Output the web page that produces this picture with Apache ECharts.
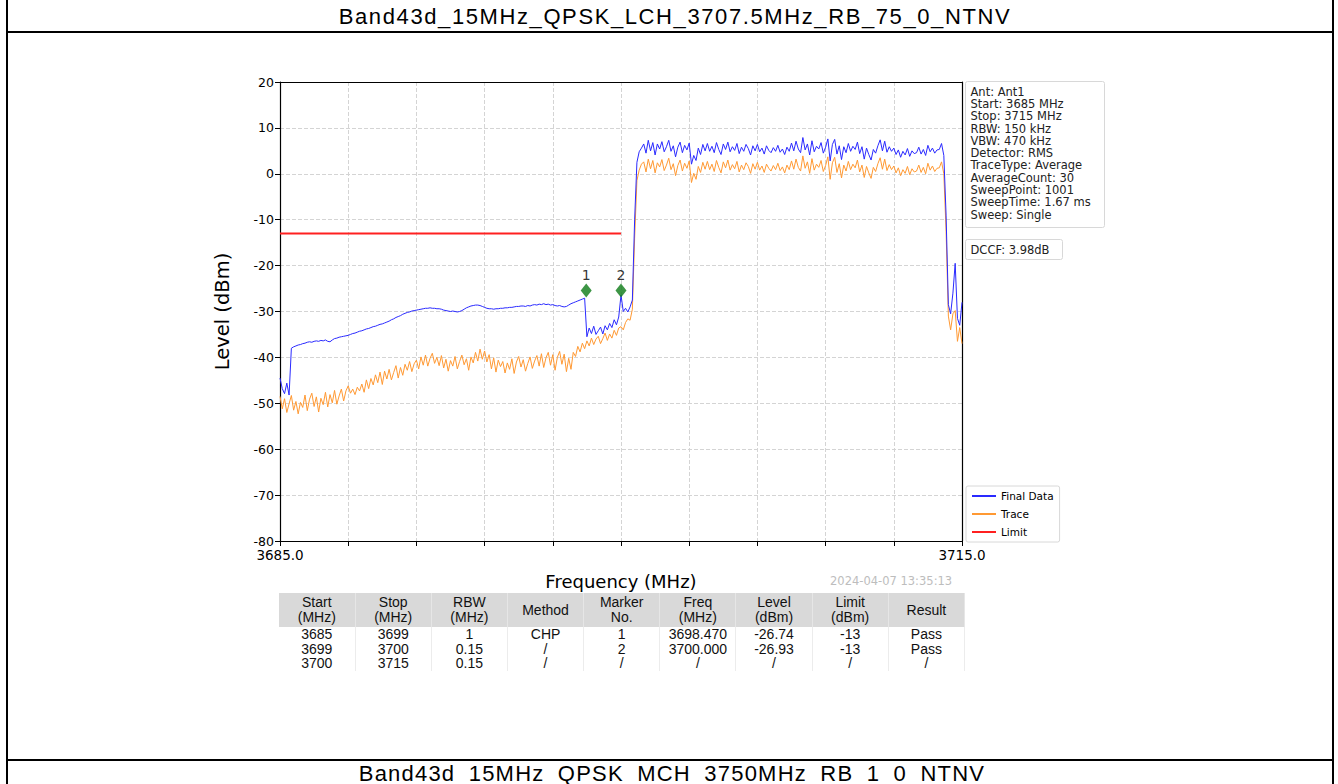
<!DOCTYPE html>
<html>
<head>
<meta charset="utf-8">
<script src="https://cdn.jsdelivr.net/npm/echarts@6/dist/echarts.min.js"></script>
<style>
  body { margin: 0; background: #fff; }
  #page { position: relative; width: 1338px; height: 784px; overflow: hidden; font-family: 'Liberation Sans', Arial, sans-serif; }
  .vline { position: absolute; top: 0; height: 784px; width: 1.5px; background: #000; }
  .hline { position: absolute; left: 6px; width: 1327px; height: 1.5px; background: #000; }
  .caption { position: absolute; left: 0; width: 1338px; text-align: center; font-size: 22px; line-height: 24px; letter-spacing: 1.6px; color: #000; }
  #chart { position: absolute; left: 0; top: 0; width: 1338px; height: 784px; }
  #summary { position: absolute; left: 279px; top: 593px; width: 686px; border-collapse: collapse; table-layout: fixed; font-size: 14px; color: #111; }
  #summary th { background: #d9d9d9; font-weight: normal; line-height: 15px; height: 34px; padding: 0; border-right: 1px solid #e6e6e6; }
  #summary td { text-align: center; line-height: 14.5px; padding: 0; border-right: 1px solid #ececec; }
</style>
</head>
<body>
<div id="page">
  <div class="vline" style="left:6px"></div>
  <div class="vline" style="left:1332px"></div>
  <div class="caption" style="top:5px; left:6px">Band43d_15MHz_QPSK_LCH_3707.5MHz_RB_75_0_NTNV</div>
  <div class="hline" style="top:31px"></div>
  <div class="hline" style="top:759px"></div>
  <div class="caption" style="top:762px; letter-spacing:1.2px; left:3px">Band43d_15MHz_QPSK_MCH_3750MHz_RB_1_0_NTNV</div>
  <div id="chart"></div>
  <table id="summary"></table>
</div>
<script>
// sweep grid (MHz)
const sweepStart = 3685;
const sweepStep = 0.1;

// Trace (orange), one row per MHz
const traceLevels = [
  -48.5,-51.2,-49.0,-52.0,-50.1,-48.3,-51.5,-49.6,-52.3,-49.8,
  -50.9,-48.2,-51.6,-49.1,-47.8,-50.7,-48.6,-51.9,-48.9,-50.3,
  -47.6,-50.8,-48.1,-49.9,-47.2,-50.2,-48.4,-46.9,-49.5,-47.3,
  -46.2,-47.8,-46.9,-48.1,-46.5,-47.3,-45.8,-47.6,-44.9,-46.8,
  -44.6,-46.0,-43.8,-45.5,-43.2,-45.9,-43.0,-44.7,-42.6,-44.9,
  -43.3,-41.8,-44.5,-42.2,-43.9,-41.5,-42.8,-40.9,-43.1,-41.4,
  -40.6,-42.5,-39.9,-41.7,-39.5,-41.9,-40.2,-39.1,-41.3,-40.0,
  -41.8,-39.6,-42.3,-40.4,-43.0,-40.7,-41.9,-39.8,-42.5,-40.9,
  -39.5,-41.6,-40.3,-42.8,-39.9,-41.2,-38.9,-40.8,-38.2,-40.4,
  -38.6,-41.0,-39.4,-42.5,-40.1,-43.2,-40.6,-42.0,-40.9,-43.4,
  -41.2,-42.6,-40.3,-43.5,-41.0,-39.8,-42.1,-40.5,-43.0,-41.3,
  -39.9,-42.4,-40.8,-39.6,-41.9,-39.2,-42.2,-40.1,-38.9,-41.7,
  -39.4,-42.8,-40.0,-38.7,-41.5,-39.3,-43.1,-40.2,-42.6,-38.9,
  -39.8,-37.6,-38.8,-36.9,-38.1,-36.4,-37.5,-35.8,-37.2,-36.0,
  -35.4,-37.0,-35.9,-34.7,-36.3,-34.9,-35.8,-34.1,-35.2,-33.6,
  -33.3,-34.0,-32.4,-31.6,-31.9,-29.5,-14.0,-1.5,0.8,2.1,
  2.6,0.4,3.2,1.1,2.9,0.2,2.4,1.5,3.1,0.7,
  1.9,3.4,0.9,2.2,-0.4,1.8,3.0,0.6,2.3,1.2,
  2.8,-1.9,0.1,-1.2,1.6,0.3,2.5,1.0,2.7,0.9,
  2.1,0.5,2.9,1.4,0.2,2.6,1.3,3.0,0.8,2.0,
  1.1,2.7,0.4,1.9,0.9,2.4,1.6,0.1,2.2,1.0,
  2.5,0.8,1.7,0.3,2.1,1.2,0.6,1.8,0.9,2.3,
  0.7,1.5,0.2,1.9,0.9,2.8,1.0,3.2,1.4,0.6,
  3.9,1.2,2.6,0.1,3.3,0.8,2.1,1.4,2.9,0.5,
  1.8,3.7,-1.2,2.4,3.6,0.3,2.2,-0.9,1.9,0.6,
  2.7,0.9,2.1,1.3,3.0,0.4,1.9,-0.8,1.6,0.2,
  -1.0,1.4,0.5,2.2,3.5,1.0,3.2,0.7,2.0,0.9,
  1.7,0.2,1.3,-0.4,0.9,0.1,1.6,-0.2,1.1,0.4,
  0.6,1.9,0.3,1.4,0.0,2.3,0.8,1.7,0.5,1.2,
  1.3,2.6,0.0,-12.5,-31.0,-34.0,-30.5,-29.8,-36.5,-33.5,
  -37.0
];

// Final Data (blue), one row per MHz
const finalLevels = [
  -44.5,-46.8,-47.9,-45.6,-48.2,-38.0,-37.7,-37.5,-37.3,-37.2,
  -37.0,-36.9,-36.7,-36.6,-36.7,-36.5,-36.4,-36.5,-36.3,-36.4,
  -36.2,-36.5,-36.6,-36.2,-35.9,-35.8,-35.6,-35.5,-35.4,-35.3,
  -35.2,-35.0,-34.8,-34.7,-34.5,-34.3,-34.2,-34.0,-33.8,-33.7,
  -33.5,-33.3,-33.2,-33.0,-32.8,-32.7,-32.5,-32.3,-32.1,-31.8,
  -31.6,-31.3,-31.1,-30.9,-30.6,-30.4,-30.2,-30.1,-29.9,-29.8,
  -29.7,-29.6,-29.5,-29.4,-29.3,-29.3,-29.2,-29.3,-29.3,-29.4,
  -29.4,-29.5,-29.7,-29.8,-29.9,-30.0,-29.9,-30.0,-30.1,-30.0,
  -29.8,-29.5,-29.2,-29.0,-28.8,-28.7,-28.6,-28.6,-28.7,-28.9,
  -29.1,-29.3,-29.4,-29.4,-29.5,-29.4,-29.4,-29.3,-29.3,-29.2,
  -29.2,-29.1,-29.1,-29.0,-28.9,-28.9,-28.8,-28.8,-28.9,-28.7,
  -28.8,-28.6,-28.5,-28.6,-28.4,-28.5,-28.3,-28.5,-28.4,-28.6,
  -28.5,-28.7,-28.8,-28.7,-28.9,-29.0,-28.9,-28.6,-28.3,-28.1,
  -27.9,-27.7,-27.5,-27.3,-27.1,-35.5,-33.6,-34.8,-33.2,-35.0,
  -34.2,-33.4,-34.9,-33.1,-34.0,-32.6,-33.5,-31.8,-32.9,-31.2,
  -26.4,-30.0,-29.3,-30.1,-29.0,-27.5,-10.0,2.5,4.8,5.6,
  6.5,4.5,7.3,5.0,6.8,4.1,6.5,5.4,7.0,4.8,
  5.9,7.3,4.9,6.1,3.7,5.8,6.9,4.6,6.2,5.2,
  6.7,2.1,4.0,2.9,5.6,4.2,6.4,5.0,6.6,4.9,
  6.0,4.6,6.8,5.3,4.2,6.5,5.3,6.9,4.8,5.9,
  5.1,6.6,4.4,5.8,4.9,6.4,5.5,4.1,6.1,5.0,
  6.4,4.8,5.6,4.3,6.1,5.1,4.6,5.7,4.9,6.2,
  4.7,5.4,4.2,5.8,4.9,6.7,5.0,7.1,5.4,4.6,
  7.9,5.2,6.5,4.1,7.2,4.8,6.0,5.4,6.8,4.5,
  5.8,7.6,2.8,6.4,7.5,4.3,6.1,3.1,5.9,4.6,
  6.6,4.9,6.0,5.3,6.9,4.4,5.9,3.2,5.6,4.2,
  3.0,5.3,4.5,6.1,7.4,5.0,7.1,4.7,5.9,4.9,
  5.6,4.2,5.2,3.6,4.9,4.1,5.5,3.8,5.0,4.4,
  4.6,5.8,4.3,5.3,4.0,6.2,4.8,5.6,4.5,5.2,
  5.3,6.6,4.0,-9.0,-28.5,-30.5,-26.0,-19.5,-31.5,-33.0,
  -28.0
];

// limit line
const limitFreqs = [3685, 3700];
const limitLevels = [-13, -13];

// markers
const markerNames = ['1', '2'];
const markerFreqs = [3698.47, 3700.0];
const markerLevels = [-25.4, -25.4];

// side boxes
const infoLines = ['Ant: Ant1', 'Start: 3685 MHz', 'Stop: 3715 MHz', 'RBW: 150 kHz', 'VBW: 470 kHz',
  'Detector: RMS', 'TraceType: Average', 'AverageCount: 30', 'SweepPoint: 1001', 'SweepTime: 1.67 ms', 'Sweep: Single'];
const dccfText = 'DCCF: 3.98dB';
const stampText = '2024-04-07 13:35:13';

// result table
const tableHeader = ['Start\n(MHz)', 'Stop\n(MHz)', 'RBW\n(MHz)', 'Method', 'Marker\nNo.', 'Freq\n(MHz)', 'Level\n(dBm)', 'Limit\n(dBm)', 'Result'];
const tableRows = [
  ['3685', '3699', '1', 'CHP', '1', '3698.470', '-26.74', '-13', 'Pass'],
  ['3699', '3700', '0.15', '/', '2', '3700.000', '-26.93', '-13', 'Pass'],
  ['3700', '3715', '0.15', '/', '/', '/', '/', '/', '/']
];

// build table
const tbl = document.getElementById('summary');
let html = '<tr>' + tableHeader.map(h => '<th>' + h.replace('\n', '<br>') + '</th>').join('') + '</tr>';
tableRows.forEach(r => { html += '<tr>' + r.map(c => '<td>' + c + '</td>').join('') + '</tr>'; });
tbl.innerHTML = html;

const sweepFreqs = traceLevels.map((_, i) => +(sweepStart + i * sweepStep).toFixed(2));
const pairs = (xs, ys) => xs.map((x, i) => [x, ys[i]]);

const fontMpl = "'DejaVu Sans', sans-serif";
const myChart = echarts.init(document.getElementById('chart'), null, { renderer: 'svg' });

// plain black frame line for the top / right edges of the plot
const frameAxis = { axisLine: { show: true, onZero: false, lineStyle: { color: '#000', width: 1.2 } },
  axisTick: { show: false }, axisLabel: { show: false }, splitLine: { show: false } };

const option = {
  animation: false,
  grid: { left: 280, top: 82, width: 682, height: 459 },
  xAxis: [{
    type: 'value', min: 3685, max: 3715, interval: 3,
    name: 'Frequency (MHz)', nameLocation: 'middle', nameGap: 31,
    nameTextStyle: { fontFamily: fontMpl, fontSize: 18, color: '#000' },
    axisLine: { onZero: false, lineStyle: { color: '#000', width: 1.2 } },
    axisTick: { inside: false, length: 5, lineStyle: { color: '#000' } },
    axisLabel: { fontFamily: fontMpl, fontSize: 13.5, color: '#000', margin: 7,
      formatter: v => (v === 3685 || v === 3715) ? v.toFixed(1) : '' },
    splitLine: { show: true, lineStyle: { color: '#d4d4d4', type: 'dashed' } }
  }, Object.assign({ type: 'value', position: 'top', min: 3685, max: 3715, interval: 3 }, frameAxis)],
  yAxis: [{
    type: 'value', min: -80, max: 20, interval: 10,
    name: 'Level (dBm)', nameLocation: 'middle', nameGap: 48, nameRotate: 90,
    nameTextStyle: { fontFamily: fontMpl, fontSize: 19.5, color: '#000' },
    axisLine: { show: true, onZero: false, lineStyle: { color: '#000', width: 1.2 } },
    axisTick: { show: true, length: 5, lineStyle: { color: '#000' } },
    axisLabel: { fontFamily: fontMpl, fontSize: 12.5, color: '#000', margin: 6 },
    splitLine: { show: true, lineStyle: { color: '#d4d4d4', type: 'dashed' } }
  }, Object.assign({ type: 'value', position: 'right', min: -80, max: 20, interval: 10 }, frameAxis)],
  legend: {
    data: ['Final Data', 'Trace', 'Limit'], orient: 'vertical', left: 966, top: 486,
    icon: 'rect', itemWidth: 24, itemHeight: 2, itemGap: 6, padding: [4, 6, 4, 6],
    backgroundColor: '#fff', borderColor: '#d8d8d8', borderWidth: 1, borderRadius: 2,
    textStyle: { fontFamily: fontMpl, fontSize: 10.5, color: '#000', lineHeight: 12 }
  },
  graphic: [
    { type: 'group', left: 965, top: 81, children: [
      { type: 'rect', shape: { x: 0, y: 0, width: 139, height: 146, r: 2 }, style: { fill: '#fff', stroke: '#d8d8d8', lineWidth: 1 } },
      { type: 'text', x: 5, y: 4, style: { text: infoLines.join('\n'), fontFamily: fontMpl, fontSize: 11.5, lineHeight: 12.3, fill: '#222' } }
    ] },
    { type: 'group', left: 965, top: 239, children: [
      { type: 'rect', shape: { x: 0, y: 0, width: 97, height: 20, r: 2 }, style: { fill: '#fff', stroke: '#d8d8d8', lineWidth: 1 } },
      { type: 'text', x: 5, y: 4, style: { text: dccfText, fontFamily: fontMpl, fontSize: 11.5, fill: '#222' } }
    ] },
    { type: 'text', left: 830, top: 575, style: { text: stampText, fontFamily: fontMpl, fontSize: 11.5, fill: '#bdbdbd' } }
  ],
  series: [
    { name: 'Final Data', type: 'line', data: pairs(sweepFreqs, finalLevels), symbol: 'none',
      lineStyle: { color: '#2a2aff', width: 1 }, itemStyle: { color: '#2a2aff' }, z: 3 },
    { name: 'Trace', type: 'line', data: pairs(sweepFreqs, traceLevels), symbol: 'none',
      lineStyle: { color: '#ff9933', width: 1 }, itemStyle: { color: '#ff9933' }, z: 2 },
    { name: 'Limit', type: 'line', data: pairs(limitFreqs, limitLevels), symbol: 'none',
      lineStyle: { color: '#ff2020', width: 2 }, itemStyle: { color: '#ff2020' }, z: 4 },
    { name: 'Markers', type: 'scatter', data: pairs(markerFreqs, markerLevels), symbol: 'diamond', symbolSize: [11, 14],
      itemStyle: { color: '#0c7a16' }, z: 5,
      label: { show: true, position: 'top', distance: 1, fontFamily: fontMpl, fontSize: 14, color: '#000',
        formatter: p => markerNames[p.dataIndex] } }
  ]
};
myChart.setOption(option);
</script>
</body>
</html>
